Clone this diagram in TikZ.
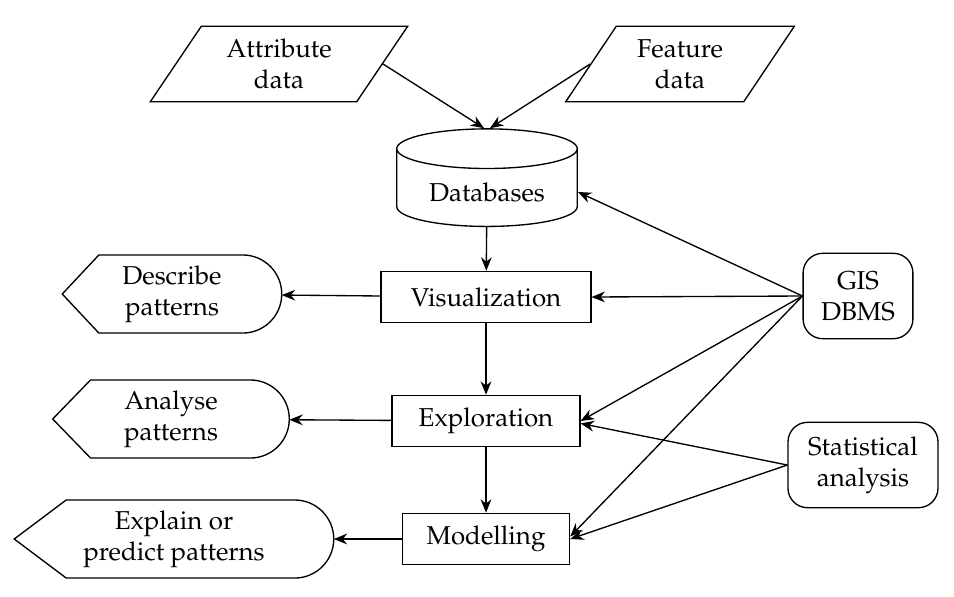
\documentclass[tikz,border=0pt]{standalone}
\usepackage[T1]{fontenc}
\usepackage{mathpazo}
\usepackage{tikz}
\usetikzlibrary{shapes.geometric}
\usetikzlibrary{arrows.meta}
\tikzset{>={Stealth[length=5.5pt,width=4.4pt]}}
\tikzset{box/.style = {draw, line width=0.55pt}}
\tikzset{step box/.style = {box, shape=rectangle, minimum height=21pt, inner sep=0pt}}
\tikzset{data box/.style = {box, trapezium, trapezium left angle=55, trapezium right angle=125,
    trapezium stretches=true, minimum height=31pt, inner sep=0pt, align=center}}
\tikzset{tool box/.style = {box, rounded corners=8pt, minimum height=35pt, inner sep=0pt, align=center}}
\tikzset{result box/.style = {minimum height=32pt, inner sep=0pt, outer sep=0pt, align=center}}
\tikzset{link/.style = {->, line width=0.55pt}}
\newcommand{\drawdisplay}[2]{%
  \draw[box] (#1.west) -- ([xshift=#2]#1.north west) -- ([xshift=-16pt]#1.north east)
    arc[start angle=90, end angle=-90, radius=16pt] -- ([xshift=#2]#1.south west) -- cycle;}

\begin{document}
\begin{tikzpicture}[x=0.41pt, y=-0.41pt, font=\fontsize{10.6}{12.6}\selectfont]
                \useasboundingbox (0,0) rectangle (954,596);
                % inputs
                \node[data box, minimum width=106pt] (attr) at (279,64) {Attribute\\data};
                \node[data box, minimum width=94pt] (feat) at (680,64) {Feature\\data};
                \node[box, cylinder, shape border rotate=90, aspect=0.3,
                      minimum width=74pt, minimum height=40pt] (db) at (487,192) {Databases};
                % steps
                \node[step box, minimum width=86pt] (vis) at (486,297) {Visualization};
                \node[step box, minimum width=77pt] (expl) at (486,421) {Exploration};
                \node[step box, minimum width=68.5pt] (model) at (486,539) {Modelling};
                % results
                \node[result box, minimum width=90pt] (desc) at (172,294) {Describe\\patterns};
                \node[result box, minimum width=97pt] (anal) at (171,419) {Analyse\\patterns};
                \node[result box, minimum width=131pt] (pred) at (174,539) {Explain or\\predict patterns};
                \drawdisplay{desc}{15pt}
                \drawdisplay{anal}{15.5pt}
                \drawdisplay{pred}{21.3pt}
                % tools
                \node[tool box, minimum width=45pt] (gis) at (858,296) {GIS\\DBMS};
                \node[tool box, minimum width=61.5pt] (stat) at (863,465) {Statistical\\analysis};
                % links
                \draw[link] (attr.east) -- ([xshift=-1.2pt]db.north);
                \draw[link] (feat.west) -- ([xshift=1.2pt]db.north);
                \draw[link] (db) -- (vis);
                \draw[link] (vis) -- (expl);
                \draw[link] (expl) -- (model);
                \draw[link] (vis) -- (desc);
                \draw[link] (expl) -- (anal);
                \draw[link] (model) -- (pred);
                \draw[link] (gis.west) -- (db.east);
                \draw[link] (gis.west) -- (vis.east);
                \draw[link] (gis.west) -- (expl.east);
                \draw[link] (gis.west) -- ([yshift=1pt]model.east);
                \draw[link] (stat.west) -- ([yshift=-1pt]expl.east);
                \draw[link] (stat.west) -- (model.east);
            \end{tikzpicture}
\end{document}
